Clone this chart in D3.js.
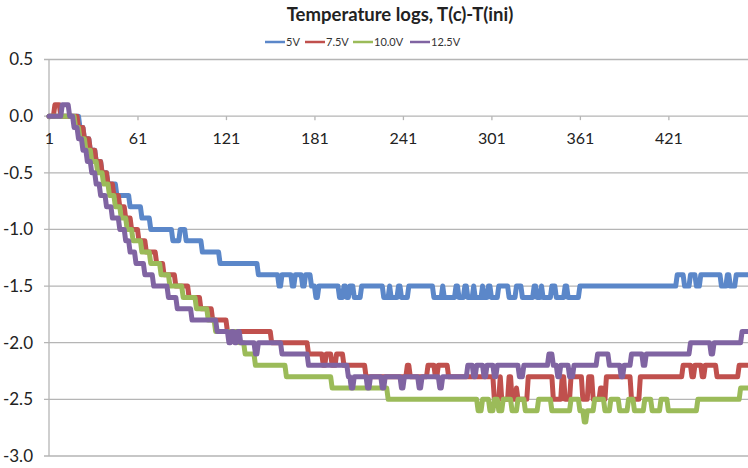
<!DOCTYPE html>
<html>
<head>
<meta charset="utf-8">
<script src="https://cdn.jsdelivr.net/npm/d3@7"></script>
<style>
  body { margin: 0; background: #fff; }
  svg { display: block; font-family: Lato, "Open Sans", sans-serif; }
</style>
</head>
<body>
<div id="chart"></div>
<script>
// series names + colours (Excel 2007 defaults)
var seriesNames = ["5V", "7.5V", "10.0V", "12.5V"];
var seriesColors = ["#5b87c9", "#c0504d", "#9bbb59", "#8064a2"];

// readings, stored as [value, number of samples] runs
var runs5V = [[0,21],[-0.1,3],[-0.2,4],[-0.3,4],[-0.4,4],[-0.5,4],[-0.6,6],[-0.7,9],[-0.8,8],[-0.9,6],
    [-1.0,15],[-1.1,5],[-1.0,4],[-1.1,11],[-1.2,12],[-1.3,26],[-1.4,14],[-1.5,2],[-1.4,7],[-1.5,2],
    [-1.4,5],[-1.5,2],[-1.4,4],[-1.5,3],[-1.6,2],[-1.5,14],[-1.6,3],[-1.5,2],[-1.6,2],[-1.5,3],
    [-1.6,5],[-1.5,15],[-1.6,4],[-1.5,1],[-1.6,5],[-1.5,2],[-1.6,5],[-1.5,17],[-1.6,6],[-1.5,1],
    [-1.6,8],[-1.5,2],[-1.6,4],[-1.5,2],[-1.6,4],[-1.5,1],[-1.6,5],[-1.5,1],[-1.6,3],[-1.5,2],
    [-1.6,5],[-1.5,7],[-1.6,5],[-1.5,4],[-1.6,8],[-1.5,2],[-1.6,3],[-1.5,1],[-1.6,6],[-1.5,3],
    [-1.6,6],[-1.5,2],[-1.6,8],[-1.5,66],[-1.4,5],[-1.5,4],[-1.4,4],[-1.5,3],[-1.4,14],[-1.5,4],
    [-1.4,2],[-1.5,4],[-1.4,9]];
var runs7V5 = [[0,4],[0.1,4],[0,12],[-0.1,4],[-0.2,4],[-0.3,4],[-0.4,4],[-0.5,4],[-0.6,4],[-0.7,4],
    [-0.8,4],[-0.9,4],[-1.0,5],[-1.1,5],[-1.2,7],[-1.3,5],[-1.4,8],[-1.5,9],[-1.6,8],[-1.7,8],
    [-1.8,10],[-1.9,30],[-2.0,25],[-2.1,10],[-2.2,2],[-2.1,4],[-2.2,3],[-2.1,5],[-2.2,15],[-2.3,28],
    [-2.2,2],[-2.3,12],[-2.2,5],[-2.3,2],[-2.2,7],[-2.3,31],[-2.5,4],[-2.3,1],[-2.5,5],[-2.3,2],
    [-2.5,3],[-2.4,1],[-2.5,7],[-2.3,17],[-2.5,6],[-2.3,2],[-2.5,4],[-2.3,8],[-2.5,4],[-2.3,3],
    [-2.5,5],[-2.4,2],[-2.5,2],[-2.3,17],[-2.5,6],[-2.3,29],[-2.2,6],[-2.3,2],[-2.2,5],[-2.3,2],
    [-2.2,8],[-2.3,15],[-2.2,7]];
var runs10V = [[0,18],[-0.1,3],[-0.2,4],[-0.3,4],[-0.4,4],[-0.5,4],[-0.6,4],[-0.7,4],[-0.8,4],[-0.9,4],
    [-1.0,4],[-1.1,6],[-1.2,6],[-1.3,7],[-1.4,6],[-1.5,9],[-1.6,9],[-1.7,8],[-1.8,5],[-1.9,16],
    [-2.0,4],[-2.1,7],[-2.2,21],[-2.3,31],[-2.4,38],[-2.5,61],[-2.6,3],[-2.5,5],[-2.6,3],[-2.5,3],
    [-2.6,3],[-2.5,6],[-2.6,4],[-2.5,5],[-2.6,9],[-2.5,9],[-2.6,13],[-2.5,6],[-2.6,3],[-2.7,2],
    [-2.6,5],[-2.5,7],[-2.6,4],[-2.5,6],[-2.6,6],[-2.5,4],[-2.6,7],[-2.5,5],[-2.6,6],[-2.5,5],
    [-2.6,20],[-2.5,29],[-2.4,6]];
var runs12V5 = [[0,9],[0.1,5],[0,3],[-0.1,3],[-0.2,3],[-0.3,3],[-0.4,3],[-0.5,3],[-0.6,3],[-0.7,4],
    [-0.8,4],[-0.9,5],[-1.0,4],[-1.1,3],[-1.2,4],[-1.3,6],[-1.4,6],[-1.5,10],[-1.6,6],[-1.7,10],
    [-1.8,17],[-1.9,8],[-2.0,2],[-1.9,2],[-2.0,2],[-1.9,2],[-2.0,10],[-2.1,2],[-2.0,16],[-2.1,18],
    [-2.2,27],[-2.3,2],[-2.4,2],[-2.3,9],[-2.4,2],[-2.3,8],[-2.4,2],[-2.3,11],[-2.4,2],[-2.3,10],
    [-2.4,2],[-2.3,12],[-2.4,2],[-2.3,17],[-2.2,4],[-2.3,2],[-2.2,5],[-2.3,2],[-2.2,5],[-2.3,2],
    [-2.2,15],[-2.3,3],[-2.2,17],[-2.1,3],[-2.2,3],[-2.3,2],[-2.2,6],[-2.3,3],[-2.2,16],[-2.1,8],
    [-2.2,8],[-2.3,2],[-2.2,5],[-2.1,8],[-2.2,2],[-2.1,30],[-2.0,14],[-2.1,2],[-2.0,19],[-1.9,5]];

// axis ticks
var xTickLabels = [1, 61, 121, 181, 241, 301, 361, 421];
var yTicks = [0.5, 0.0, -0.5, -1.0, -1.5, -2.0, -2.5, -3.0];

// expand runs into one value per sample
function expand(r) {
    var out = [];
    r.forEach(function (p) {
        for (var k = 0; k < p[1]; k++) out.push(p[0]);
    });
    return out.map(function (v, i) { return {idx: i + 1, val: v}; });
}
var series = [runs5V, runs7V5, runs10V, runs12V5].map(expand);

var width = 748, height = 468;
var svg = d3.select("#chart").append("svg")
    .attr("width", width)
    .attr("height", height);

var x = d3.scaleLinear().domain([1, 475]).range([49, 748]);
var y = d3.scaleLinear().domain([-3, 0.5]).range([456, 59.5]);

// gridlines
svg.append("g")
    .selectAll("line")
    .data(yTicks)
    .enter()
    .append("line")
    .attr("x1", 44)
    .attr("x2", width)
    .attr("y1", function (d) { return y(d); })
    .attr("y2", function (d) { return y(d); })
    .attr("stroke", "#b5b5b5")
    .attr("stroke-width", 1.3);

// vertical axis line
svg.append("line")
    .attr("x1", 49).attr("x2", 49)
    .attr("y1", y(0.5)).attr("y2", y(-3))
    .attr("stroke", "#b5b5b5")
    .attr("stroke-width", 1.3);

// y labels
svg.append("g")
    .selectAll("text")
    .data(yTicks)
    .enter()
    .append("text")
    .attr("x", 33)
    .attr("y", function (d) { return y(d); })
    .attr("dy", "0.35em")
    .attr("text-anchor", "end")
    .attr("font-size", 17)
    .attr("fill", "#222")
    .text(function (d) { return d3.format(".1f")(d).replace("−", "-"); });

// x axis sits on the zero line
var xAxis = svg.append("g")
    .attr("transform", "translate(0," + y(0) + ")")
    .call(d3.axisBottom(x)
        .tickValues(xTickLabels)
        .tickSize(4)
        .tickPadding(12)
        .tickFormat(function (d) { return d; }));
xAxis.select(".domain").remove();
xAxis.selectAll("line").attr("stroke", "#b5b5b5").attr("stroke-width", 1.3);
xAxis.selectAll("text")
    .attr("font-size", 16)
    .attr("font-family", "Lato, sans-serif")
    .attr("fill", "#222");

// the lines
var line = d3.line()
    .x(function (d) { return x(d.idx); })
    .y(function (d) { return y(d.val); });

svg.append("g")
    .selectAll("path")
    .data(series)
    .enter()
    .append("path")
    .attr("d", line)
    .attr("fill", "none")
    .attr("stroke", function (d, i) { return seriesColors[i]; })
    .attr("stroke-width", 5)
    .attr("stroke-linejoin", "round")
    .attr("stroke-linecap", "round");

// title
svg.append("text")
    .attr("x", 400)
    .attr("y", 21)
    .attr("text-anchor", "middle")
    .attr("font-size", 18.5)
    .attr("font-weight", "bold")
    .attr("fill", "#222")
    .text("Temperature logs, T(c)-T(ini)");

// legend
var legendX = [265, 305, 353, 410];
var legend = svg.append("g")
    .selectAll("g")
    .data(seriesNames)
    .enter()
    .append("g")
    .attr("transform", function (d, i) { return "translate(" + legendX[i] + ",42)"; });
legend.append("line")
    .attr("x1", 0).attr("x2", 20)
    .attr("stroke", function (d, i) { return seriesColors[i]; })
    .attr("stroke-width", 2.5);
legend.append("text")
    .attr("x", 21)
    .attr("dy", "0.35em")
    .attr("font-size", 11)
    .attr("fill", "#333")
    .text(function (d) { return d; });
</script>
</body>
</html>
